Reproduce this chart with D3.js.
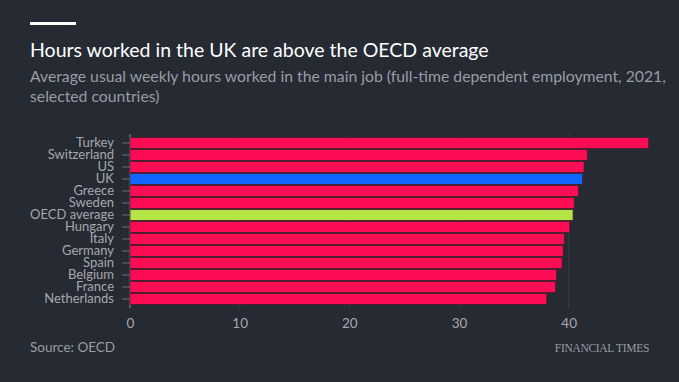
<!DOCTYPE html>
<html><head><meta charset="utf-8">
<script src="https://cdn.jsdelivr.net/npm/d3@7"></script>
<style>
html,body{margin:0;padding:0;background:#262a33;}
svg{display:block;}
</style></head>
<body>
<script>
const categories = ["Turkey","Switzerland","US","UK","Greece","Sweden","OECD average","Hungary","Italy","Germany","Spain","Belgium","France","Netherlands"];
const hours = [47.3,41.7,41.4,41.25,40.9,40.5,40.4,40.1,39.6,39.5,39.4,38.9,38.8,38.0];
const xTicks = [0,10,20,30,40];
const highlight = {"UK":"#0f67ff","OECD average":"#b4e445"};
const title = "Hours worked in the UK are above the OECD average";
const subtitle = ["Average usual weekly hours worked in the main job (full-time dependent employment, 2021,","selected countries)"];
const source = "Source: OECD";

const W=679,H=382;
const svg=d3.select("body").append("svg").attr("width",W).attr("height",H);
svg.append("rect").attr("width",W).attr("height",H).attr("fill","#262a33");
const font="Lato, 'Open Sans', sans-serif";

svg.append("rect").attr("x",30).attr("y",22).attr("width",46).attr("height",3).attr("fill","#ffffff");
svg.append("text").attr("x",30).attr("y",57).text(title)
  .attr("fill","#ffffff").attr("font-family",font).attr("font-size",19.5);
subtitle.forEach((s,i)=>svg.append("text").attr("x",30).attr("y",82+i*20).text(s)
  .attr("fill","#9a9ca3").attr("font-family",font).attr("font-size",15.75));

const x=d3.scaleLinear().domain([0,40]).range([130,568.7]);
const y=d3.scaleBand().domain(categories).range([137,305]).paddingInner(0.1).paddingOuter(0.05);

// gridlines
svg.append("g").selectAll("line").data(xTicks).join("line")
  .attr("x1",d=>x(d)).attr("x2",d=>x(d)).attr("y1",134).attr("y2",308)
  .attr("stroke",d=>d===0?"#8a8d94":"#3b3f48").attr("stroke-width",1);

svg.append("g").selectAll("rect").data(categories).join("rect")
  .attr("x",x(0)).attr("y",d=>y(d))
  .attr("width",(d,i)=>x(hours[i])-x(0)).attr("height",y.bandwidth())
  .attr("fill",d=>highlight[d]||"#ff0d54")
  .attr("stroke","#4a1c2c").attr("stroke-width",0.8);

const yAxis=svg.append("g").attr("transform",`translate(${x(0)},0)`)
  .call(d3.axisLeft(y).tickSize(8).tickPadding(8));
yAxis.select(".domain").remove();
yAxis.selectAll(".tick line").attr("stroke","#6e7179");
yAxis.selectAll("text").attr("fill","#a6a8ae").attr("font-family",font).attr("font-size",13);

const xAxis=svg.append("g").attr("transform","translate(0,308)")
  .call(d3.axisBottom(x).tickValues(xTicks).tickSize(0).tickPadding(10));
xAxis.select(".domain").remove();
xAxis.selectAll("text").attr("fill","#a6a8ae").attr("font-family",font).attr("font-size",13.5);

svg.append("text").attr("x",30).attr("y",352).text(source)
  .attr("fill","#9a9ca3").attr("font-family",font).attr("font-size",13.5);
svg.append("text").attr("x",649).attr("y",352).attr("text-anchor","end").text("FINANCIAL TIMES")
  .attr("fill","#9a9ca3").attr("font-family","'Liberation Serif', serif").attr("font-size",11.5).attr("letter-spacing",-0.3);
</script>
</body></html>
